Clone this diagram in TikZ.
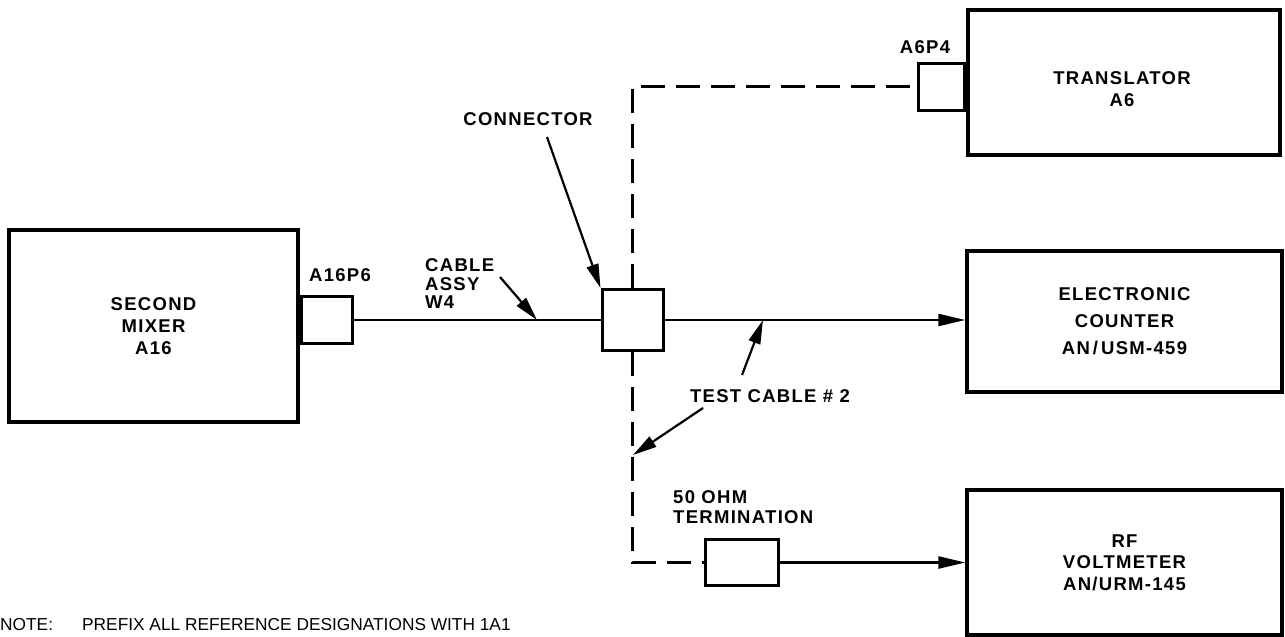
\documentclass[tikz,border=0pt]{standalone}
\usepackage{fontspec}
\setmainfont{Liberation Sans}
\newfontfamily\lblfont[LetterSpace=7]{Liberation Sans}
\usetikzlibrary{arrows.meta}
\begin{document}
\begin{tikzpicture}[x=1pt,y=-1pt,
  box/.style={draw, line width=3.4pt, inner sep=0pt, align=center,
    font=\lblfont\bfseries\fontsize{18.5}{22}\selectfont},
  plug/.style={draw, line width=3pt, inner sep=0pt},
  lbl/.style={inner sep=0pt, font=\lblfont\bfseries\fontsize{18.5}{20}\selectfont},
  wire/.style={line width=2.4pt},
  dwire/.style={line width=2.4pt, dash pattern=on 24pt off 11pt},
  arr/.style={wire, -{Triangle[length=27pt,width=12pt]}},
  callout/.style={line width=2.2pt, -{Triangle[length=24pt,width=12pt]}}
]
\useasboundingbox (0,0) rectangle (1285,637);

% main boxes
\node[box, minimum width=289pt, minimum height=192pt] (mixer) at (153.5,326) {SECOND\\MIXER\\A16};
\node[box, minimum width=312pt, minimum height=145pt] (trans) at (1124,82.5) {};
\node[lbl, align=center, font=\lblfont\bfseries\fontsize{18.5}{22}\selectfont] (transtext) at (1122,89) {TRANSLATOR\\A6};
\node[box, minimum width=315pt, minimum height=141pt,
  font=\lblfont\bfseries\fontsize{18.5}{27}\selectfont] (counter) at (1124.5,321.5) {ELECTRONIC\\COUNTER\\AN\,/\,USM-459};
\node[box, minimum width=315pt, minimum height=145pt,
  font=\lblfont\bfseries\fontsize{18.5}{21.5}\selectfont] (rf) at (1124.5,562.5) {RF\\VOLTMETER\\AN/URM-145};

% small connector boxes
\node[plug, minimum width=51pt, minimum height=47pt, anchor=west] (a16p6) at (mixer.east |- 0,320) {};
\node[plug, minimum width=46pt, minimum height=47pt, anchor=east] (a6p4) at (trans.west |- 0,86.5) {};
\node[plug, minimum width=61pt, minimum height=61pt] (conn) at (632.5,320) {};
\node[plug, minimum width=73pt, minimum height=46pt] (term) at (741.5,562.5) {};

% labels
\node[lbl] (la16p6) at (340,275) {A16P6};
\node[lbl] (la6p4) at (925,47) {A6P4};
\node[lbl] (lconn) at (528,119) {CONNECTOR};
\node[lbl, align=left, anchor=west, font=\lblfont\bfseries\fontsize{18.5}{18.5}\selectfont] (lw4) at (425,284) {CABLE\\ASSY\\W4};
\node[lbl] (ltc) at (770,396) {TEST CABLE \# 2};
\node[lbl, align=left, anchor=west] (lterm) at (673,507) {50 OHM\\TERMINATION};
\node[inner sep=0pt, anchor=west, font=\fontsize{17.3}{18}\selectfont] (note) at (0,625)
  {\makebox[82pt][l]{NOTE:}PREFIX ALL REFERENCE DESIGNATIONS WITH 1A1};

% wiring
\draw[wire] (a16p6.east) -- (conn.west);
\draw[arr] (conn.east) -- (conn.east -| counter.west);
\draw[dwire] (conn.north) -- (conn.north |- a6p4.west) -- (a6p4.west);
\draw[dwire] (conn.south) -- (conn.south |- term.west) -- (term.west);
\draw[arr] (term.east) -- (term.east -| rf.west);

% callouts
\coordinate (cTail) at (547,137);
\draw[callout] (cTail) -- (conn.north west);
\coordinate (wTail) at (500,277);
\coordinate (wTip) at (537,320);
\draw[callout] (wTail) -- (wTip);
\coordinate (t1Tail) at (742,375);
\coordinate (t1Tip) at (763,320);
\draw[callout] (t1Tail) -- (t1Tip);
\coordinate (t2Tail) at (703,408);
\coordinate (t2Tip) at (633,455);
\draw[callout] (t2Tail) -- (t2Tip);
\end{tikzpicture}
\end{document}
